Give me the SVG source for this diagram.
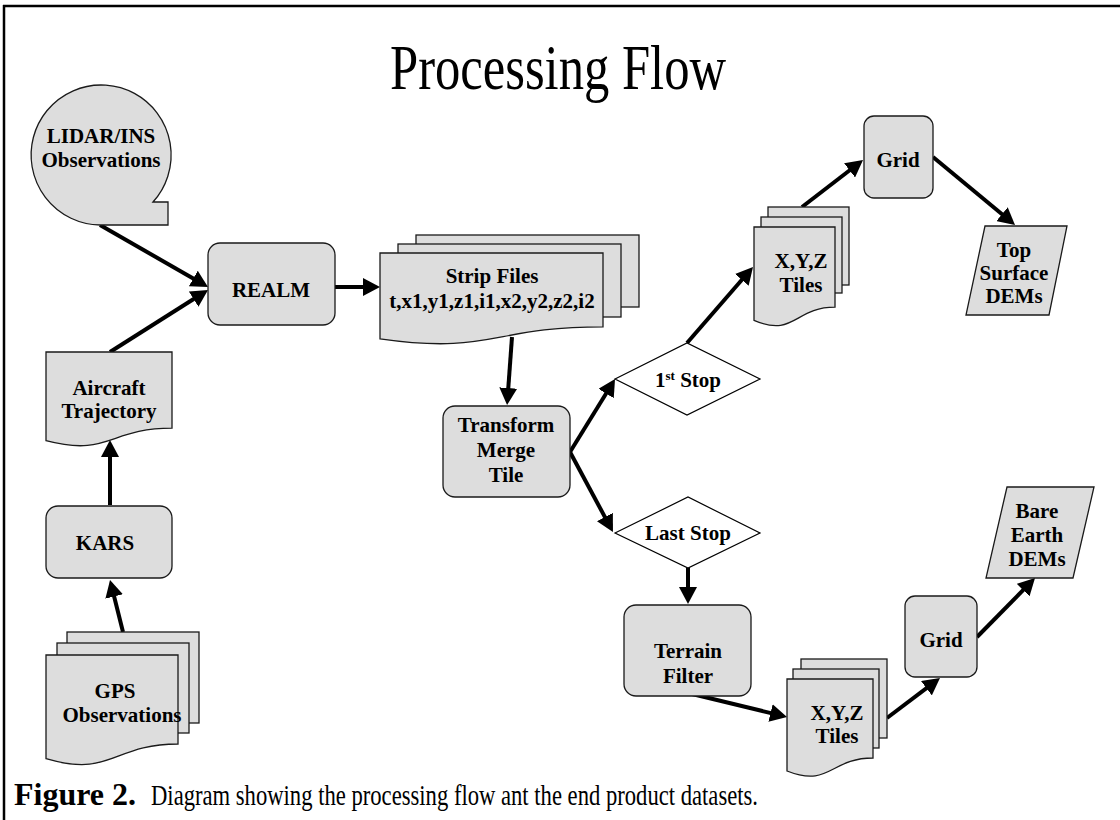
<svg xmlns="http://www.w3.org/2000/svg" width="1120" height="820" viewBox="0 0 1120 820">
<style>
.node{fill:#dddddd;stroke:#1a1a1a;stroke-width:1.3}
.dia{fill:#ffffff;stroke:#000;stroke-width:1.2}
.t{font-family:"Liberation Serif","Times New Roman",serif;font-weight:bold;font-size:21px;text-anchor:middle;fill:#000}
.conn line{stroke:#000;stroke-width:4;marker-end:url(#ah)}
.frame{stroke:#000;stroke-width:2.5;fill:none}
.serif{font-family:"Liberation Serif","Times New Roman",serif;fill:#000}
</style>
<defs>
<marker id="ah" markerUnits="userSpaceOnUse" markerWidth="17" markerHeight="18" refX="8" refY="9" orient="auto">
<path d="M0,0 L17,9 L0,18 Z" fill="#000"/>
</marker>
</defs>
<rect width="1120" height="820" fill="#fff"/>
<g id="frame">
<line class="frame" x1="3" y1="6" x2="1120" y2="6"/>
<line class="frame" x1="4" y1="5" x2="4" y2="820"/>
</g>
<text id="title" class="serif" x="390" y="89" font-size="64" textLength="336" lengthAdjust="spacingAndGlyphs">Processing Flow</text>

<g class="conn" id="connectors">
<line x1="100" y1="225" x2="200.2" y2="282.5"/>
<line x1="110" y1="352" x2="200.4" y2="294.8"/>
<line x1="335" y1="287" x2="371" y2="287"/>
<line x1="512" y1="337" x2="507.7" y2="396"/>
<line x1="570" y1="452" x2="610.3" y2="386.7"/>
<line x1="570" y1="452" x2="608.7" y2="524.1"/>
<line x1="687" y1="343" x2="747.1" y2="273.8"/>
<line x1="802" y1="207" x2="855.9" y2="165.5"/>
<line x1="933" y1="157" x2="1008.1" y2="219.3"/>
<line x1="688" y1="568" x2="688" y2="595"/>
<line x1="688" y1="693" x2="778.3" y2="714.9"/>
<line x1="887" y1="718" x2="932.8" y2="683.4"/>
<line x1="977" y1="637" x2="1028.7" y2="584.4"/>
<line x1="110" y1="505" x2="110" y2="449"/>
<line x1="123" y1="632" x2="112.2" y2="588.7"/>
</g>

<g id="lidar">
<path class="node" d="M100,225 A70,70 0 1 1 153,202 L168,202 L168,225 Z"/>
<text class="t" x="101" y="143">LIDAR/INS</text>
<text class="t" x="101" y="167">Observations</text>
</g>

<g id="realm">
<rect class="node" x="208" y="243" width="127" height="82" rx="12"/>
<text class="t" x="271" y="297">REALM</text>
</g>

<g id="strip">
<rect class="node" x="416" y="235" width="223" height="72"/>
<rect class="node" x="398" y="244" width="223" height="73"/>
<path class="node" d="M380,253 H603 V326.8 C491.5,326.8 491.5,354.8 380,338.9 Z"/>
<text class="t" x="492" y="283">Strip Files</text>
<text class="t" x="492" y="308">t,x1,y1,z1,i1,x2,y2,z2,i2</text>
</g>

<g id="transform">
<rect class="node" x="443" y="406" width="127" height="91" rx="12"/>
<text class="t" x="506" y="432">Transform</text>
<text class="t" x="506" y="457">Merge</text>
<text class="t" x="506" y="482">Tile</text>
</g>

<g id="firststop">
<polygon class="dia" points="615,379 687,343 760,379 687,415"/>
<text class="t" x="688" y="387">1<tspan font-size="13" dy="-7">st</tspan><tspan dy="7"> Stop</tspan></text>
</g>

<g id="laststop">
<polygon class="dia" points="615,533 688,497 760,533 688,568"/>
<text class="t" x="688" y="540">Last Stop</text>
</g>

<g id="xyz-top">
<rect class="node" x="768" y="207" width="81" height="78"/>
<rect class="node" x="761" y="217" width="81" height="76"/>
<path class="node" d="M754,227 H835 V307.2 C794.5,307.2 794.5,337.7 754,320.4 Z"/>
<text class="t" x="801" y="268">X,Y,Z</text>
<text class="t" x="801" y="292">Tiles</text>
</g>

<g id="grid-top">
<rect class="node" x="864" y="116" width="69" height="82" rx="10"/>
<text class="t" x="898" y="167">Grid</text>
</g>

<g id="top-dem">
<polygon class="node" points="985,226 1067,226 1049,315 966,315"/>
<text class="t" x="1014" y="257">Top</text>
<text class="t" x="1014" y="280">Surface</text>
<text class="t" x="1014" y="303">DEMs</text>
</g>

<g id="terrain">
<rect class="node" x="624" y="605" width="127" height="91" rx="12"/>
<text class="t" x="688" y="658">Terrain</text>
<text class="t" x="688" y="683">Filter</text>
</g>

<g id="xyz-bottom">
<rect class="node" x="801" y="659" width="86" height="79"/>
<rect class="node" x="793" y="669" width="86" height="79"/>
<path class="node" d="M787,679 H873 V758 C830,758 830,788 787,771 Z"/>
<text class="t" x="837" y="720">X,Y,Z</text>
<text class="t" x="837" y="743">Tiles</text>
</g>

<g id="grid-bottom">
<rect class="node" x="905" y="596" width="72" height="81" rx="10"/>
<text class="t" x="941" y="647">Grid</text>
</g>

<g id="bare-dem">
<polygon class="node" points="1007,487 1094,487 1073,578 986,578"/>
<text class="t" x="1037" y="518">Bare</text>
<text class="t" x="1037" y="542">Earth</text>
<text class="t" x="1037" y="566">DEMs</text>
</g>

<g id="aircraft">
<path class="node" d="M46,352 H172 V428.2 C109,428.2 109,457.2 46,440.7 Z"/>
<text class="t" x="109" y="395">Aircraft</text>
<text class="t" x="109" y="418">Trajectory</text>
</g>

<g id="kars">
<rect class="node" x="46" y="506" width="126" height="72" rx="12"/>
<text class="t" x="105" y="550">KARS</text>
</g>

<g id="gps">
<rect class="node" x="67" y="632" width="132" height="91"/>
<rect class="node" x="57" y="643" width="132" height="90"/>
<path class="node" d="M46,655 H178 V744 C112,744 112,777.9 46,758.7 Z"/>
<text class="t" x="115" y="698">GPS</text>
<text class="t" x="122" y="722">Observations</text>
</g>

<g id="caption">
<text class="serif" x="14" y="805" font-size="32" font-weight="bold">Figure 2.</text>
<text class="serif" x="151" y="805" font-size="30" textLength="607" lengthAdjust="spacingAndGlyphs">Diagram showing the processing flow ant the end product datasets.</text>
</g>
</svg>
